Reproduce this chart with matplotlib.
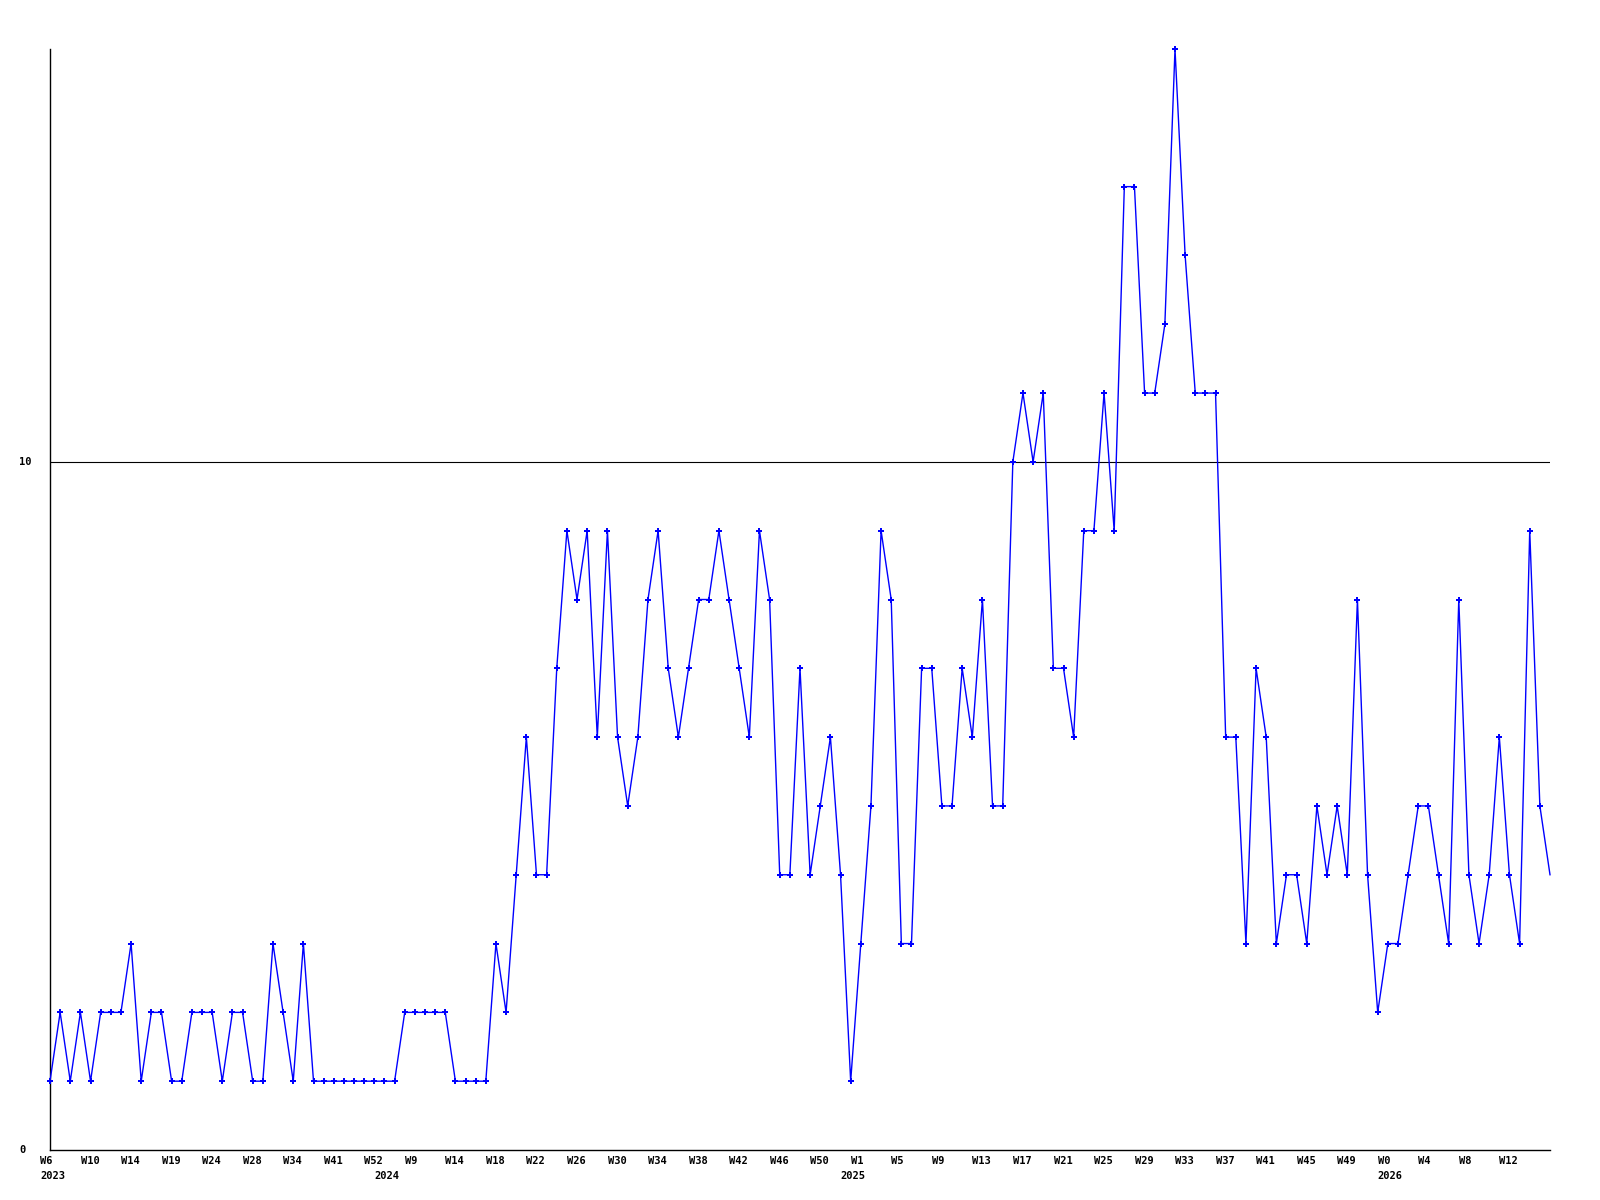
import matplotlib
matplotlib.use("Agg")
import matplotlib.pyplot as plt

# weekly counts, one per point
values = [
    1, 2, 1, 2, 1, 2, 2, 2, 3, 1, 2, 2, 1, 1, 2, 2, 2, 1, 2, 2, 1, 1, 3, 2, 1, 3,
    1, 1, 1, 1, 1, 1, 1, 1, 1,
    2, 2, 2, 2, 2,
    1, 1, 1, 1,
    3, 2, 4, 6, 4, 4,
    7, 9, 8, 9, 6, 9, 6, 5, 6, 8, 9, 7, 6, 7, 8, 8, 9, 8, 7, 6, 9, 8, 4, 4, 7, 4, 5, 6,
    4, 1, 3, 5, 9, 8, 3, 3, 7, 7, 5, 5, 7, 6, 8, 5, 5,
    10, 11, 10, 11, 7, 7, 6,
    9, 9, 11, 9, 14, 14, 11, 11, 12, 16, 13, 11, 11, 11, 6, 6, 3, 7, 6, 3, 4, 4, 3, 5, 4, 5, 4,
    8, 4, 2, 3, 3, 4, 5, 5, 4, 3, 8, 4, 3, 4, 6, 4, 3, 9, 5, 4,
]

# x labels, every 4th point
week_labels = [
    "W6", "W10", "W14", "W19", "W24", "W28", "W34", "W41", "W52", "W9",
    "W14", "W18", "W22", "W26", "W30", "W34", "W38", "W42", "W46", "W50",
    "W1", "W5", "W9", "W13", "W17", "W21", "W25", "W29", "W33", "W37",
    "W41", "W45", "W49", "W0", "W4", "W8", "W12",
]
year_labels = ["2023", "2024", "2025", "2026"]
year_starts = [0, 33, 79, 132]

y_ticks = [0, 10]

font = {"family": "DejaVu Sans Mono", "weight": "bold", "size": 7.5}

fig = plt.figure(figsize=(16, 12), dpi=100)
ax = fig.add_axes([50 / 1600, 50 / 1200, 1500 / 1600, 1101 / 1200])

x = list(range(len(values)))
ax.plot(x, values, color="#0000ff", linewidth=1.0, marker="P", markersize=4,
        markeredgewidth=0, markevery=list(range(len(values) - 1)), clip_on=False, zorder=3)

ax.axhline(10, color="black", linewidth=0.8, zorder=2)

ax.set_xlim(0, len(values) - 1)
ax.set_ylim(0, 16)
for side in ("top", "right"):
    ax.spines[side].set_visible(False)
for side in ("left", "bottom"):
    ax.spines[side].set_color("black")
    ax.spines[side].set_linewidth(1.0)
ax.set_xticks([])
ax.set_yticks([])

for k, label in enumerate(week_labels):
    ax.annotate(label, xy=(4 * k, 0), xycoords=("data", "axes fraction"),
                xytext=(-10, -6), textcoords="offset pixels", ha="left", va="top", **font)
for idx, label in zip(year_starts, year_labels):
    ax.annotate(label, xy=(idx, 0), xycoords=("data", "axes fraction"),
                xytext=(-10, -21), textcoords="offset pixels", ha="left", va="top", **font)
for v in y_ticks:
    ax.annotate(str(v), xy=(0, v), xycoords=("axes fraction", "data"),
                xytext=(-31, 0), textcoords="offset pixels", ha="left", va="center", **font)

fig.savefig("out.png", dpi=100)
